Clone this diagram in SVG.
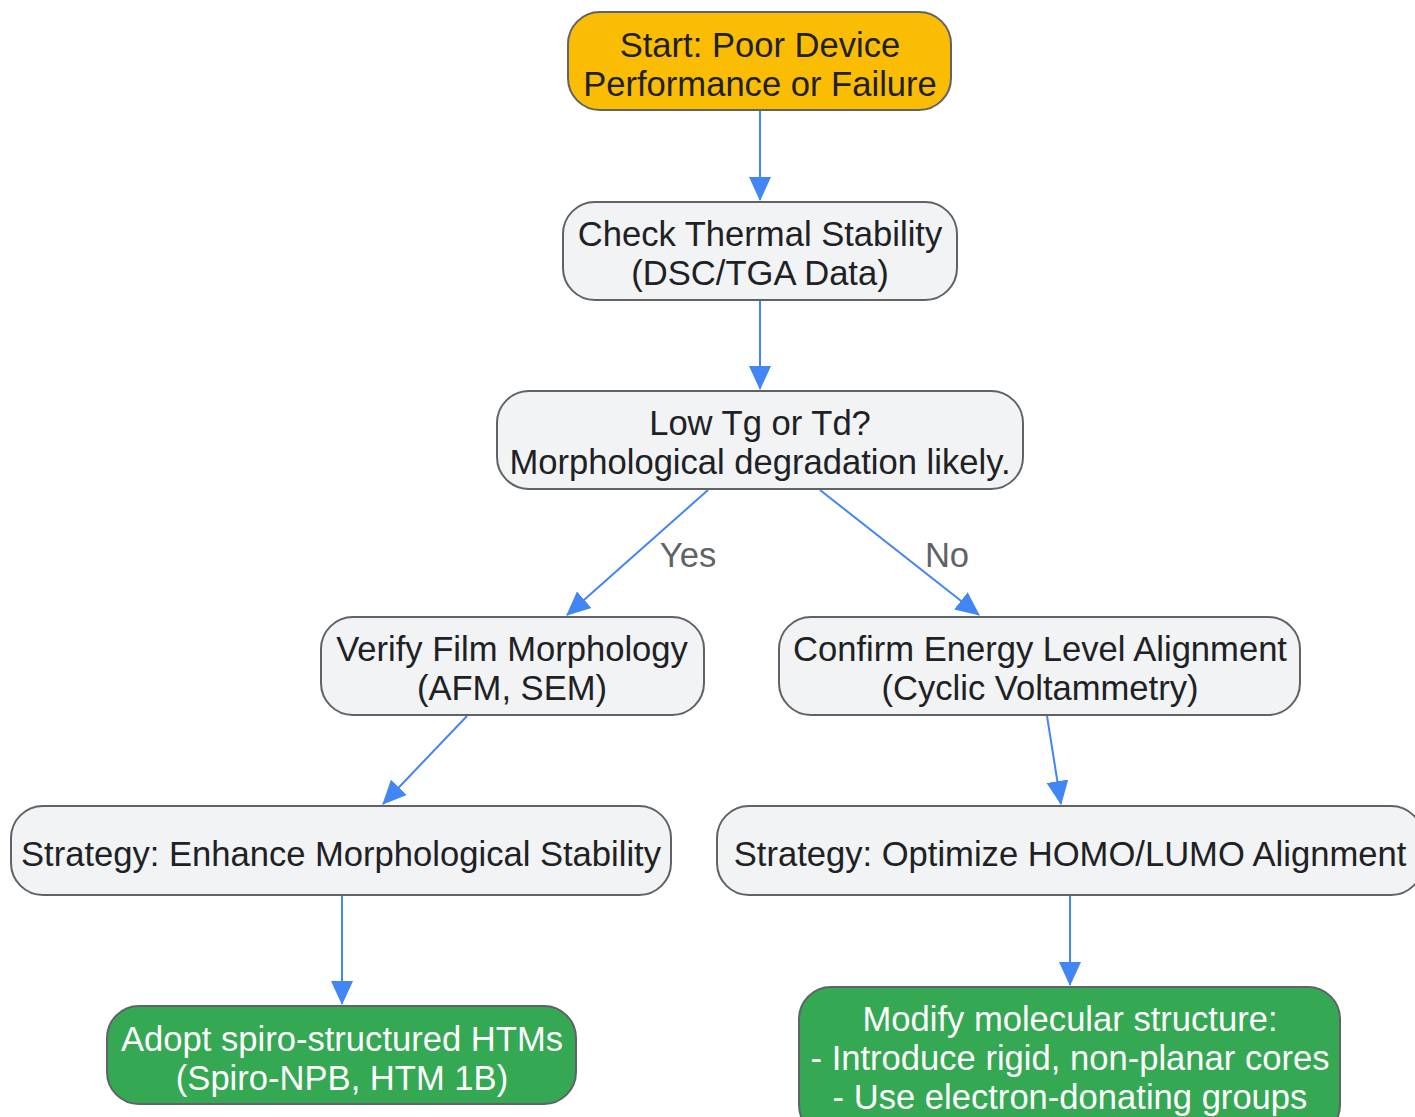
<svg xmlns="http://www.w3.org/2000/svg" width="1415" height="1117" viewBox="0 0 1415 1117">
<defs>
<style>
.n rect{fill:#f1f3f4;stroke:#5f6368;stroke-width:2}
.n.start rect{fill:#fbbc04}
.n.green rect{fill:#34a853}
text{font-family:"Liberation Sans",Arial,sans-serif;font-size:34.6px;text-anchor:middle;fill:#202124}
.green text{fill:#ffffff}
.lbl{fill:#5f6368}
.e{stroke:#4285f4;stroke-width:2;fill:none;marker-end:url(#ah)}
</style>
<marker id="ah" markerWidth="24" markerHeight="24" viewBox="0 0 24 24" refX="23" refY="12" orient="auto" markerUnits="userSpaceOnUse">
<path d="M0,1 L24,12 L0,23 Z" fill="#4285f4"/>
</marker>
</defs>
<rect width="1415" height="1117" fill="#ffffff"/>
<g id="edges">
<line class="e" x1="760" y1="111" x2="760" y2="200"/>
<line class="e" x1="760" y1="301" x2="760" y2="389"/>
<line class="e" x1="708" y1="490" x2="567" y2="615"/>
<line class="e" x1="820" y1="490" x2="979" y2="615"/>
<line class="e" x1="467" y1="716" x2="383" y2="804"/>
<line class="e" x1="1047" y1="716" x2="1061" y2="804"/>
<line class="e" x1="342" y1="896" x2="342" y2="1004"/>
<line class="e" x1="1070" y1="896" x2="1070" y2="985"/>
<text class="lbl" x="688" y="567">Yes</text>
<text class="lbl" x="947" y="567">No</text>
</g>
<g id="start" class="n start">
<rect x="568" y="12" width="383" height="98" rx="32"/>
<text x="760" y="57">Start: Poor Device</text>
<text x="760" y="96">Performance or Failure</text>
</g>
<g id="thermal" class="n">
<rect x="563" y="202" width="394" height="98" rx="32"/>
<text x="760" y="246">Check Thermal Stability</text>
<text x="760" y="285">(DSC/TGA Data)</text>
</g>
<g id="lowtg" class="n">
<rect x="497" y="391" width="526" height="98" rx="32"/>
<text x="760" y="435">Low Tg or Td?</text>
<text x="760" y="474">Morphological degradation likely.</text>
</g>
<g id="verify" class="n">
<rect x="321" y="617" width="383" height="98" rx="32"/>
<text x="512" y="661">Verify Film Morphology</text>
<text x="512" y="700">(AFM, SEM)</text>
</g>
<g id="confirm" class="n">
<rect x="779" y="617" width="521" height="98" rx="32"/>
<text x="1040" y="661">Confirm Energy Level Alignment</text>
<text x="1040" y="700">(Cyclic Voltammetry)</text>
</g>
<g id="enhance" class="n">
<rect x="11" y="806" width="660" height="89" rx="32"/>
<text x="341" y="866">Strategy: Enhance Morphological Stability</text>
</g>
<g id="optimize" class="n">
<rect x="717" y="806" width="706" height="89" rx="32"/>
<text x="1070" y="866">Strategy: Optimize HOMO/LUMO Alignment</text>
</g>
<g id="adopt" class="n green">
<rect x="107" y="1006" width="469" height="98" rx="32"/>
<text x="342" y="1051">Adopt spiro-structured HTMs</text>
<text x="342" y="1090">(Spiro-NPB, HTM 1B)</text>
</g>
<g id="modify" class="n green">
<rect x="799" y="987" width="541" height="150" rx="32"/>
<text x="1070" y="1031">Modify molecular structure:</text>
<text x="1070" y="1070">- Introduce rigid, non-planar cores</text>
<text x="1070" y="1109">- Use electron-donating groups</text>
</g>
</svg>
